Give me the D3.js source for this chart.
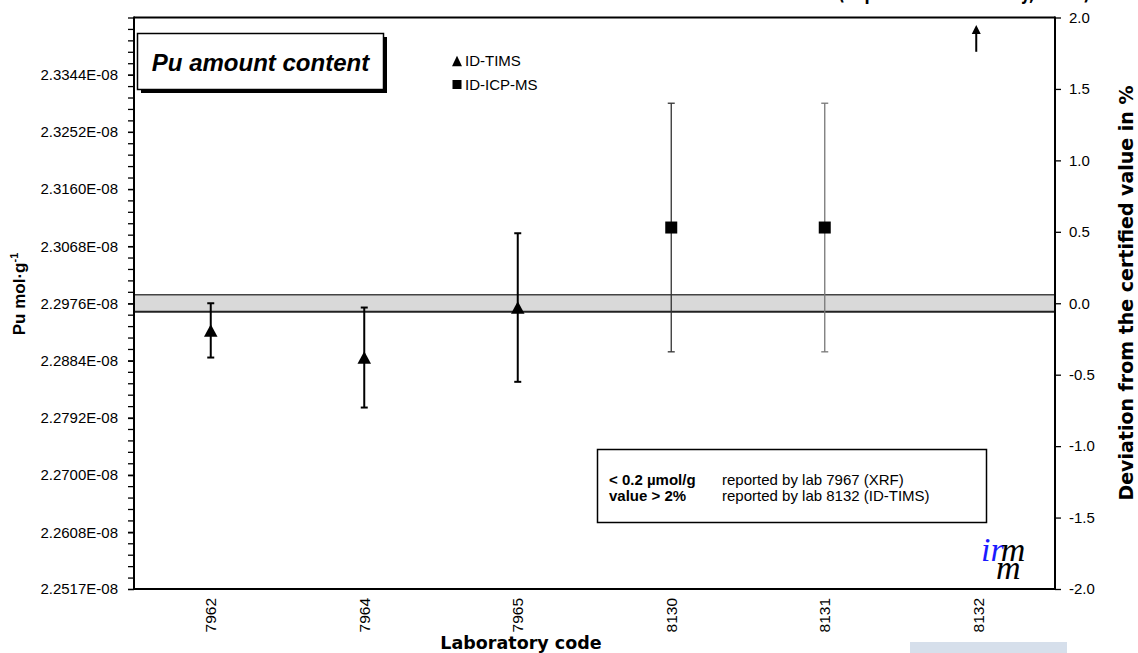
<!DOCTYPE html>
<html><head><meta charset="utf-8">
<script src="https://cdn.jsdelivr.net/npm/d3@7"></script>
<style>
body{margin:0;background:#fff}
svg{display:block}
</style></head><body>
<svg id="chart" width="1138" height="653" font-family="Liberation Sans, Arial, sans-serif"></svg>
<script>
// ---- data ----
const labs = ["7962","7964","7965","8130","8131","8132"];
const methods = ["ID-TIMS","ID-TIMS","ID-TIMS","ID-ICP-MS","ID-ICP-MS",null];
const deviation = [-0.19,-0.38,-0.03,0.53,0.53,null];      // % from certified value
const uncertainty = [0.19,0.35,0.52,0.87,0.87,null];        // expanded uncertainty, %
const certifiedValue = 2.29765e-8;                            // mol/g
const certifiedUncPct = 0.06;                                 // half-width of grey band, %
const leftTickValues = [2.2517e-8,2.2608e-8,2.2700e-8,2.2792e-8,2.2884e-8,2.2976e-8,2.3068e-8,2.3160e-8,2.3252e-8,2.3344e-8];
const leftTickLabels = ["2.2517E-08","2.2608E-08","2.2700E-08","2.2792E-08","2.2884E-08","2.2976E-08","2.3068E-08","2.3160E-08","2.3252E-08","2.3344E-08"];
const rightTickValues = [-2,-1.5,-1,-0.5,0,0.5,1,1.5,2];
const rightTickLabels = ["-2.0","-1.5","-1.0","-0.5","0.0","0.5","1.0","1.5","2.0"];
const legendItems = ["ID-TIMS","ID-ICP-MS"];
const noteBold = ["< 0.2 µmol/g","value > 2%"];
const noteText = ["reported by lab 7967 (XRF)","reported by lab 8132 (ID-TIMS)"];
const arrowLab = "8132";
const arrowRange = [1.76, 1.94];

// ---- layout ----
const L = 134, R = 1055, T = 17.5, B = 589;
const SANS = "Liberation Sans, Arial, sans-serif";
const VERD = "DejaVu Sans, Verdana, sans-serif";
const svg = d3.select("#chart");
const x = d3.scaleBand().domain(labs).range([L, R]);
const cx = d => x(d) + x.bandwidth()/2;
const yPct = d3.scaleLinear().domain([-2, 2]).range([B, T]);
const yAbs = d3.scaleLinear().domain([certifiedValue*0.98, certifiedValue*1.02]).range([B, T]);

// grey band
svg.append("rect").attr("x", L).attr("width", R-L)
  .attr("y", yPct(certifiedUncPct)).attr("height", yPct(-certifiedUncPct)-yPct(certifiedUncPct))
  .attr("fill", "#d9d9d9");
svg.append("line").attr("x1", L).attr("x2", R).attr("y1", yPct(certifiedUncPct)).attr("y2", yPct(certifiedUncPct))
  .attr("stroke", "#444").attr("stroke-width", 1.6);
svg.append("line").attr("x1", L).attr("x2", R).attr("y1", yPct(-certifiedUncPct)).attr("y2", yPct(-certifiedUncPct))
  .attr("stroke", "#222").attr("stroke-width", 2);

// left axis (minor + major)
const minorVals = d3.range(0, 51).map(i => certifiedValue*0.98 + i*certifiedValue*0.04/50);
const gMinor = svg.append("g").attr("transform", `translate(${L},0)`)
  .call(d3.axisLeft(yAbs).tickValues(minorVals).tickFormat("").tickSize(6));
gMinor.select(".domain").remove();
gMinor.selectAll("line").attr("stroke", "#000").attr("stroke-width", 1.3);
const gLeft = svg.append("g").attr("transform", `translate(${L},0)`)
  .call(d3.axisLeft(yAbs).tickValues(leftTickValues).tickFormat((d,i) => leftTickLabels[i]).tickSize(6).tickPadding(10));
gLeft.select(".domain").remove();
gLeft.selectAll("line").attr("stroke", "#000").attr("stroke-width", 1.3);
gLeft.attr("font-family", SANS).attr("font-size", 15);
gLeft.selectAll("text").attr("fill", "#000");

// right axis
const gRight = svg.append("g").attr("transform", `translate(${R},0)`)
  .call(d3.axisRight(yPct).tickValues(rightTickValues).tickFormat((d,i) => rightTickLabels[i]).tickSize(6).tickPadding(8));
gRight.select(".domain").remove();
gRight.selectAll("line").attr("stroke", "#000").attr("stroke-width", 1.3);
gRight.attr("font-family", SANS).attr("font-size", 15);
gRight.selectAll("text").attr("fill", "#000");

// x labels
svg.append("g").selectAll("text").data(labs).join("text")
  .attr("transform", d => `translate(${cx(d)+5.5},598) rotate(-90)`)
  .attr("text-anchor", "end").attr("font-size", 15.5).text(d => d);

// frame
const frame = svg.append("g").attr("stroke", "#000").attr("stroke-width", 2);
frame.append("line").attr("x1", L).attr("x2", R).attr("y1", T).attr("y2", T);
frame.append("line").attr("x1", L).attr("x2", R+1).attr("y1", B).attr("y2", B);
frame.append("line").attr("x1", L).attr("x2", L).attr("y1", T-1).attr("y2", B+1);
frame.append("line").attr("x1", R).attr("x2", R).attr("y1", T-1).attr("y2", B+1);

// data
const pts = labs.map((lab,i) => ({lab, m: methods[i], v: deviation[i], u: uncertainty[i]})).filter(d => d.v !== null);
const errColor = d => d.m === "ID-TIMS" ? "#000" : (d.lab === "8131" ? "#777" : "#333");
const errW = d => d.m === "ID-TIMS" ? 2 : 1.3;
const eb = svg.append("g").selectAll("g").data(pts).join("g");
eb.append("line").attr("x1", d => cx(d.lab)).attr("x2", d => cx(d.lab))
  .attr("y1", d => yPct(d.v + d.u)).attr("y2", d => yPct(d.v - d.u))
  .attr("stroke", errColor).attr("stroke-width", errW);
[1, -1].forEach(s => {
  eb.append("line").attr("x1", d => cx(d.lab)-3.5).attr("x2", d => cx(d.lab)+3.5)
    .attr("y1", d => yPct(d.v + s*d.u)).attr("y2", d => yPct(d.v + s*d.u))
    .attr("stroke", errColor).attr("stroke-width", errW);
});
const triPath = (w,h) => `M0,${-h/2}L${w/2},${h/2}L${-w/2},${h/2}Z`;
svg.append("g").selectAll("path").data(pts.filter(d => d.m === "ID-TIMS")).join("path")
  .attr("transform", d => `translate(${cx(d.lab)},${yPct(d.v)})`)
  .attr("d", triPath(13.5, 12.5)).attr("fill", "#000");
svg.append("g").selectAll("rect").data(pts.filter(d => d.m === "ID-ICP-MS")).join("rect")
  .attr("x", d => cx(d.lab)-6).attr("y", d => yPct(d.v)-6).attr("width", 12).attr("height", 12).attr("fill", "#000");

// arrow for lab 8132
svg.append("line").attr("x1", cx(arrowLab)-2).attr("x2", cx(arrowLab)-2)
  .attr("y1", yPct(arrowRange[0])).attr("y2", yPct(arrowRange[1])+4)
  .attr("stroke", "#000").attr("stroke-width", 2);
svg.append("path").attr("d", `M${cx(arrowLab)-2},${yPct(arrowRange[1])-1}l-4.5,9h9z`).attr("fill", "#000");

// title box
svg.append("rect").attr("x", 141).attr("y", 37).attr("width", 246).attr("height", 56).attr("fill", "#000");
svg.append("rect").attr("x", 137.5).attr("y", 33.5).attr("width", 246).attr("height", 56).attr("fill", "#fff").attr("stroke", "#000").attr("stroke-width", 1.5);
svg.append("text").attr("x", 260.5).attr("y", 71).attr("text-anchor", "middle")
  .attr("font-size", 24).attr("font-weight", "bold").attr("font-style", "italic").text("Pu amount content");

// legend
const lg = svg.append("g").selectAll("g").data(legendItems).join("g")
  .attr("transform", (d,i) => `translate(457,${61 + i*23.5})`);
lg.append("path").attr("d", (d,i) => i === 0 ? triPath(10, 10.5) : "M-4.5,-4.5h9v9h-9Z").attr("fill", "#000");
lg.append("text").attr("x", 8).attr("y", 5.3).attr("font-size", 15).text(d => d);

// note box
svg.append("rect").attr("x", 597.5).attr("y", 449.5).attr("width", 389).attr("height", 73).attr("fill", "#fff").attr("stroke", "#000").attr("stroke-width", 1.5);
const nt = svg.append("g").selectAll("g").data(noteBold).join("g").attr("transform", (d,i) => `translate(0,${485 + i*16})`);
nt.append("text").attr("x", 609).attr("font-size", 15).attr("font-weight", "bold").text(d => d);
nt.append("text").attr("x", 722).attr("font-size", 15).text((d,i) => noteText[i]);

// irmm logo (single text element, two lines)
const logo = svg.append("text").attr("font-family", "Liberation Serif, serif")
  .attr("font-style", "italic").attr("font-size", 34);
logo.append("tspan").attr("x", 981).attr("y", 561).attr("fill", "#1a1aff").text("ir");
logo.append("tspan").attr("fill", "#000").attr("dx", -3).text("m");
logo.append("tspan").attr("x", 996).attr("y", 579).attr("fill", "#000").text("m");

// axis titles
svg.append("text").attr("transform", "translate(25,294) rotate(-90)").attr("text-anchor", "middle")
  .attr("font-size", 17).attr("font-weight", "bold")
  .call(t => { t.append("tspan").text("Pu mol·g"); t.append("tspan").attr("font-size", 11).attr("dy", -7).text("-1"); });
svg.append("text").attr("transform", "translate(1133,293) rotate(-90)").attr("text-anchor", "middle")
  .attr("font-family", VERD).attr("font-weight", "bold").attr("font-size", 19)
  .text("Deviation from the certified value in %");
svg.append("text").attr("x", 521).attr("y", 649).attr("text-anchor", "middle")
  .attr("font-family", VERD).attr("font-weight", "bold").attr("font-size", 17.5)
  .text("Laboratory code");
svg.append("text").attr("x", 838).attr("y", 0).attr("textLength", 252).attr("lengthAdjust", "spacingAndGlyphs")
  .attr("font-family", VERD).attr("font-weight", "bold").attr("font-size", 19)
  .text("(expanded uncertainty, k = 2)");

// light blue artefact
svg.append("rect").attr("x", 910).attr("y", 642).attr("width", 157).attr("height", 11).attr("fill", "#d6dfeb");
</script>
</body></html>
